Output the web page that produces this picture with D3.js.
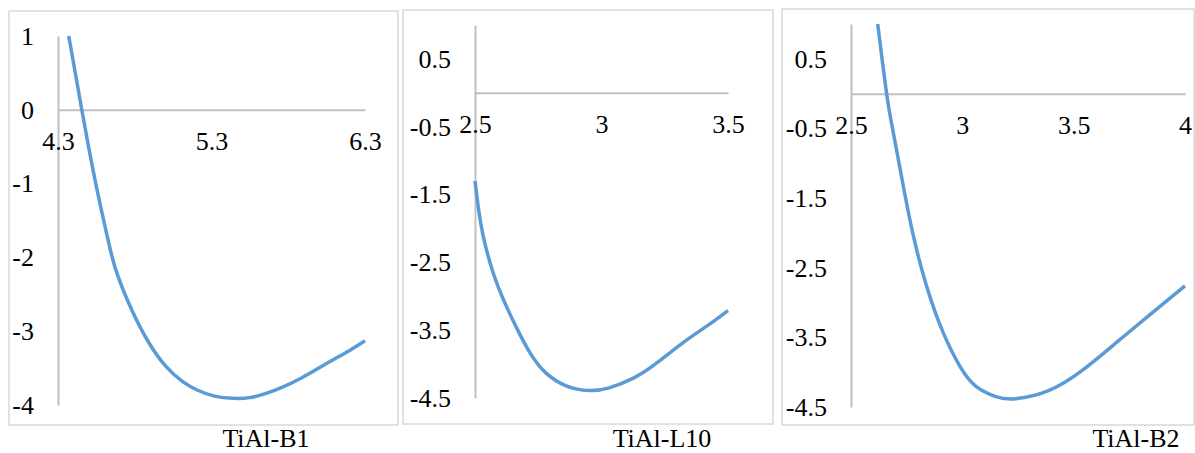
<!DOCTYPE html>
<html lang="en">
<head>
    <meta charset="UTF-8">
    <title>TiAl energy curves</title>
    <script src="https://d3js.org/d3.v7.min.js"></script>
    <style>
        body {
            margin: 0;
            background: #fff;
        }
        .frame {
            fill: none;
            stroke: #d9d9d9;
            stroke-width: 1.5;
        }
        .axis path {
            stroke: #c0c0c0;
            stroke-width: 2;
        }
        .curve {
            fill: none;
            stroke: #5b9bd5;
            stroke-width: 3.5;
        }
    </style>
</head>
<body>
<script>
// TiAl-B1
var b1X = [4.37, 4.455, 4.50, 4.55, 4.62, 4.68, 4.78, 4.89, 5.00, 5.11, 5.21, 5.32, 5.44, 5.55, 5.66, 5.77, 5.88, 5.99, 6.09, 6.20, 6.30];
var b1Y = [1.00, 0.00, -0.51, -1.04, -1.71, -2.19, -2.71, -3.15, -3.47, -3.68, -3.80, -3.88, -3.91, -3.90, -3.84, -3.75, -3.64, -3.51, -3.39, -3.26, -3.13];
var b1XTicks = [4.3, 5.3, 6.3];
var b1YTicks = [-4, -3, -2, -1, 0, 1];

// TiAl-L10
var l10X = [2.50, 2.515, 2.53, 2.55, 2.575, 2.61, 2.665, 2.72, 2.78, 2.86, 2.95, 3.03, 3.13, 3.22, 3.32, 3.42, 3.50];
var l10Y = [-1.30, -1.74, -2.07, -2.38, -2.69, -3.03, -3.47, -3.85, -4.13, -4.32, -4.39, -4.35, -4.20, -3.98, -3.69, -3.43, -3.21];
var l10XTicks = [2.5, 3, 3.5];
var l10YTicks = [-4.5, -3.5, -2.5, -1.5, -0.5, 0.5];

// TiAl-B2
var b2X = [2.62, 2.66, 2.69, 2.735, 2.78, 2.84, 2.915, 2.99, 3.06, 3.15, 3.24, 3.39, 3.54, 3.69, 3.84, 4.00];
var b2Y = [1.00, 0.00, -0.56, -1.33, -2.04, -2.77, -3.44, -3.92, -4.20, -4.35, -4.38, -4.26, -3.97, -3.58, -3.18, -2.76];
var b2XTicks = [2.5, 3, 3.5, 4];
var b2YTicks = [-4.5, -3.5, -2.5, -1.5, -0.5, 0.5];

var panels = [
    {name: "TiAl-B1", xs: b1X, ys: b1Y, xTicks: b1XTicks, yTicks: b1YTicks,
     xDom: [4.3, 6.3], yDom: [-4, 1], xRange: [58, 365], yRange: [405, 36],
     frame: [9, 11, 389, 414], titleX: 266},
    {name: "TiAl-L10", xs: l10X, ys: l10Y, xTicks: l10XTicks, yTicks: l10YTicks,
     xDom: [2.5, 3.5], yDom: [-4.5, 1], xRange: [475, 728], yRange: [398, 25],
     frame: [403, 10, 370, 414], titleX: 662},
    {name: "TiAl-B2", xs: b2X, ys: b2Y, xTicks: b2XTicks, yTicks: b2YTicks,
     xDom: [2.5, 4], yDom: [-4.5, 1], xRange: [851, 1185], yRange: [407, 24],
     frame: [782, 9, 412, 416], titleX: 1136}
];

var svg = d3.select("body")
    .append("svg")
    .attr("width", 1195)
    .attr("height", 453)
    .attr("font-family", "Liberation Serif")
    .attr("font-size", 26);

panels.forEach(function(p) {
    var g = svg.append("g");

    g.append("rect")
        .attr("class", "frame")
        .attr("x", p.frame[0])
        .attr("y", p.frame[1])
        .attr("width", p.frame[2])
        .attr("height", p.frame[3]);

    var x = d3.scaleLinear().domain(p.xDom).range(p.xRange);
    var y = d3.scaleLinear().domain(p.yDom).range(p.yRange);

    var yAxis = d3.axisLeft(y)
        .tickValues(p.yTicks)
        .tickSize(0)
        .tickSizeOuter(0)
        .tickPadding(24)
        .tickFormat(function(d) { return String(d); });

    var xAxis = d3.axisBottom(x)
        .tickValues(p.xTicks)
        .tickSize(0)
        .tickSizeOuter(0)
        .tickPadding(22)
        .tickFormat(function(d) { return String(d); });

    g.append("g")
        .attr("class", "axis")
        .attr("transform", "translate(" + p.xRange[0] + ",0)")
        .call(yAxis)
        .attr("font-family", "Liberation Serif")
        .attr("font-size", 26);

    g.append("g")
        .attr("class", "axis")
        .attr("transform", "translate(0," + y(0) + ")")
        .call(xAxis)
        .attr("font-family", "Liberation Serif")
        .attr("font-size", 26);

    g.selectAll(".axis text")
        .attr("fill", "#000");

    var pts = p.xs.map(function(v, i) { return [v, p.ys[i]]; });
    var line = d3.line()
        .x(function(d) { return x(d[0]); })
        .y(function(d) { return y(d[1]); })
        .curve(d3.curveNatural);

    g.append("path")
        .datum(pts)
        .attr("class", "curve")
        .attr("d", line);

    g.append("text")
        .attr("x", p.titleX)
        .attr("y", 447)
        .attr("text-anchor", "middle")
        .attr("fill", "#000")
        .text(p.name);
});
</script>
</body>
</html>
